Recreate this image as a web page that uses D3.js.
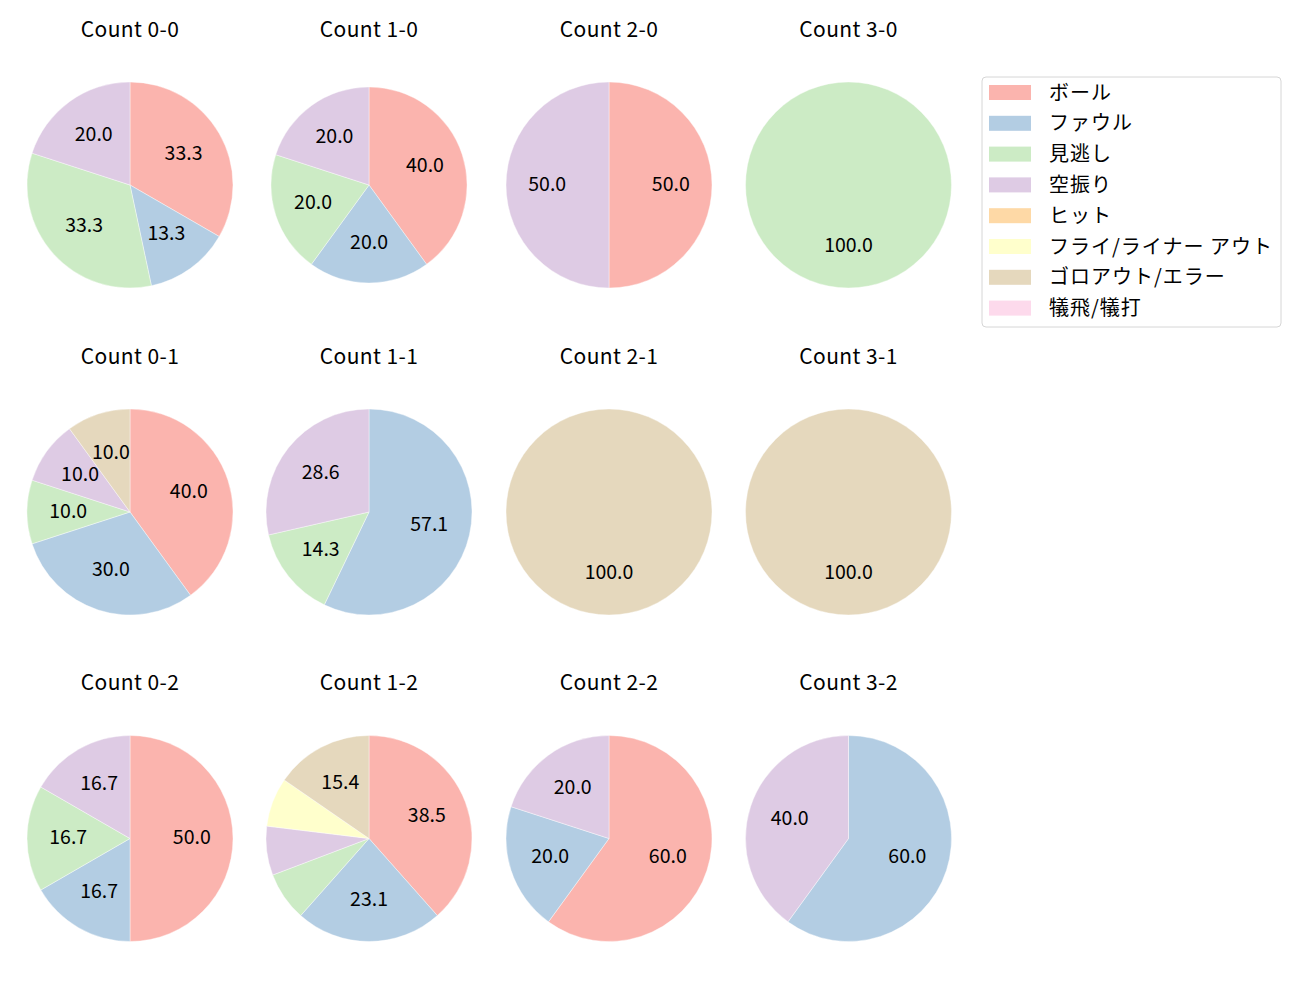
<!DOCTYPE html>
<html>
<head>
<meta charset="utf-8">
<script src="https://cdn.jsdelivr.net/npm/d3@7"></script>
<style>
  body { margin: 0; background: #ffffff; }
  svg text { font-family: "Noto Sans CJK JP", "Noto Sans", sans-serif; }
</style>
</head>
<body>
<svg id="chart" width="1300" height="1000"></svg>
<script>
// ---- data ----
const categories = ["ボール", "ファウル", "見逃し", "空振り", "ヒット", "フライ/ライナー アウト", "ゴロアウト/エラー", "犠飛/犠打"];
const colors = ["#fbb4ae", "#b3cde3", "#ccebc5", "#decbe4", "#fed9a6", "#ffffcc", "#e5d8bd", "#fddaec"];
const panelTitles = ["Count 0-0", "Count 1-0", "Count 2-0", "Count 3-0",
                     "Count 0-1", "Count 1-1", "Count 2-1", "Count 3-1",
                     "Count 0-2", "Count 1-2", "Count 2-2", "Count 3-2"];
// counts per category (same order as categories)
const count00 = [5, 2, 5, 3, 0, 0, 0, 0];
const count10 = [2, 1, 1, 1, 0, 0, 0, 0];
const count20 = [1, 0, 0, 1, 0, 0, 0, 0];
const count30 = [0, 0, 1, 0, 0, 0, 0, 0];
const count01 = [4, 3, 1, 1, 0, 0, 1, 0];
const count11 = [0, 4, 1, 2, 0, 0, 0, 0];
const count21 = [0, 0, 0, 0, 0, 0, 1, 0];
const count31 = [0, 0, 0, 0, 0, 0, 1, 0];
const count02 = [3, 1, 1, 1, 0, 0, 0, 0];
const count12 = [5, 3, 1, 1, 0, 1, 2, 0];
const count22 = [3, 1, 0, 1, 0, 0, 0, 0];
const count32 = [0, 3, 0, 2, 0, 0, 0, 0];
const panelValues = [count00, count10, count20, count30,
                     count01, count11, count21, count31,
                     count02, count12, count22, count32];
const labelThreshold = 9; // percentages below this are not labelled

// ---- layout ----
const colCenters = [130, 369, 609, 848.5];
const rowCenters = [185, 512, 838.5];
const baseRadius = 103;
const radiusFactor = {"Count 1-0": 0.952};

const svg = d3.select("#chart");
const color = d3.scaleOrdinal().domain(categories).range(colors);
const pie = d3.pie().sort(null).value(d => d.v).startAngle(0).endAngle(2 * Math.PI);

panelValues.forEach((vals, i) => {
  const cx = colCenters[i % 4], cy = rowCenters[Math.floor(i / 4)];
  const r = baseRadius * (radiusFactor[panelTitles[i]] || 1);
  const total = d3.sum(vals);
  const data = categories.map((c, k) => ({c, v: vals[k]})).filter(d => d.v > 0);
  const g = svg.append("g").attr("transform", `translate(${cx},${cy})`);
  const arc = d3.arc().innerRadius(0).outerRadius(r);
  const arcs = pie(data);
  g.selectAll("path").data(arcs).join("path")
    .attr("d", arc)
    .attr("fill", d => color(d.data.c))
    .attr("stroke", "#ffffff").attr("stroke-width", 0.4);
  g.selectAll("text.lbl").data(arcs.filter(d => d.data.v / total * 100 >= labelThreshold)).join("text")
    .attr("class", "lbl")
    .attr("x", d => Math.sin((d.startAngle + d.endAngle) / 2) * r * 0.6)
    .attr("y", d => -Math.cos((d.startAngle + d.endAngle) / 2) * r * 0.6 + 5.5)
    .attr("text-anchor", "middle")
    .attr("font-size", 19.5).attr("fill", "#000")
    .text(d => (d.data.v / total * 100).toFixed(1));
  svg.append("text")
    .attr("x", cx).attr("y", cy - 148.3)
    .attr("text-anchor", "middle")
    .attr("font-size", 21).attr("letter-spacing", 0.4).attr("fill", "#000")
    .text(panelTitles[i]);
});

// ---- legend ----
const lg = svg.append("g").attr("transform", "translate(982,77)");
lg.append("rect").attr("x", 0).attr("y", 0).attr("width", 299).attr("height", 250)
  .attr("rx", 4).attr("fill", "#fff").attr("stroke", "#d6d6d6").attr("stroke-width", 1);
const items = lg.selectAll("g.item").data(categories).join("g").attr("class", "item")
  .attr("transform", (d, i) => `translate(0,${8 + i * 30.8})`);
items.append("rect").attr("x", 7).attr("y", 0).attr("width", 42).attr("height", 15)
  .attr("fill", d => color(d));
items.append("text").attr("x", 67).attr("y", 14.5)
  .attr("font-size", 20).attr("letter-spacing", 1).attr("fill", "#000").text(d => d);
</script>
</body>
</html>
